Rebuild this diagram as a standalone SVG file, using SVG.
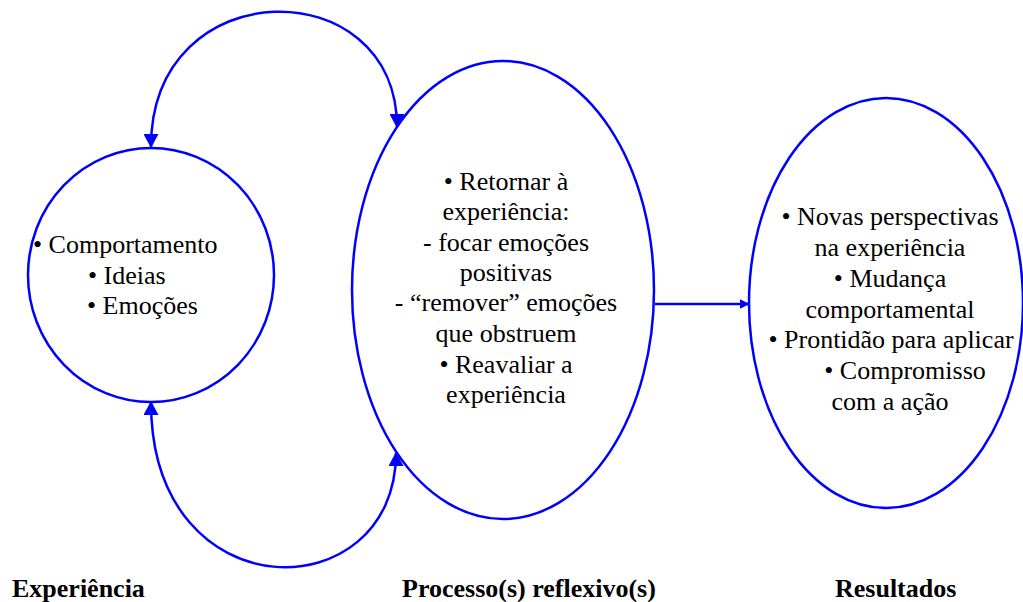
<svg xmlns="http://www.w3.org/2000/svg" width="1023" height="602" viewBox="0 0 1023 602">
<style>
.shape{fill:none;stroke:#0000ff;stroke-width:2.5}
.conn{fill:none;stroke:#0000ff;stroke-width:2.5}
text{font-family:"Liberation Serif",Tinos,"Noto Serif","DejaVu Serif","Nimbus Roman","FreeSerif","Times New Roman",serif;font-size:26px;fill:#000}
.c{text-anchor:middle}
.b{font-weight:bold}
</style>
<defs>
<marker id="ah" viewBox="0 0 14 15" markerUnits="userSpaceOnUse" markerWidth="14" markerHeight="15" refX="13" refY="7.5" orient="auto-start-reverse">
<path d="M0,0 L14,7.5 L0,15 z" fill="#0000ff"/>
</marker>
<marker id="ahs" viewBox="0 0 10 10" markerUnits="userSpaceOnUse" markerWidth="10" markerHeight="10" refX="9.5" refY="5" orient="auto">
<path d="M0,0 L10,5 L0,10 z" fill="#0000ff"/>
</marker>
</defs>
<rect width="1023" height="602" fill="#fff"/>
<g id="experiencia">
<ellipse class="shape" cx="151" cy="275" rx="123" ry="127"/>
<text x="33" y="253">• Comportamento</text>
<text x="88" y="284">• Ideias</text>
<text x="87" y="314">• Emoções</text>
</g>
<g id="processo">
<ellipse class="shape" cx="503" cy="290" rx="151" ry="229"/>
<text class="c" x="506" y="190">• Retornar à</text>
<text class="c" x="506" y="220">experiência:</text>
<text class="c" x="506" y="251">- focar emoções</text>
<text class="c" x="506" y="281">positivas</text>
<text class="c" x="506" y="311">- “remover” emoções</text>
<text class="c" x="506" y="342">que obstruem</text>
<text class="c" x="506" y="373">• Reavaliar a</text>
<text class="c" x="506" y="403">experiência</text>
</g>
<g id="resultados">
<ellipse class="shape" cx="886" cy="303" rx="137" ry="205"/>
<text class="c" x="890" y="225">• Novas perspectivas</text>
<text class="c" x="890" y="256">na experiência</text>
<text class="c" x="890" y="287">• Mudança</text>
<text class="c" x="890" y="318">comportamental</text>
<text class="c" x="891" y="348">• Prontidão para aplicar</text>
<text class="c" x="905" y="379">• Compromisso</text>
<text class="c" x="890" y="410">com a ação</text>
</g>
<g id="labels">
<text class="b" x="12" y="597">Experiência</text>
<text class="b" x="402" y="597">Processo(s) reflexivo(s)</text>
<text class="b" x="835" y="597">Resultados</text>
</g>
<g id="connectors">
<path class="conn" d="M151,147 C151,-30 397,-30 397,127" marker-start="url(#ah)" marker-end="url(#ah)"/>
<path class="conn" d="M151,402 C151,615 396,611 396,453" marker-start="url(#ah)" marker-end="url(#ah)"/>
<path class="conn" d="M655,304 L749,304" stroke-width="2" marker-end="url(#ahs)"/>
</g>
</svg>
